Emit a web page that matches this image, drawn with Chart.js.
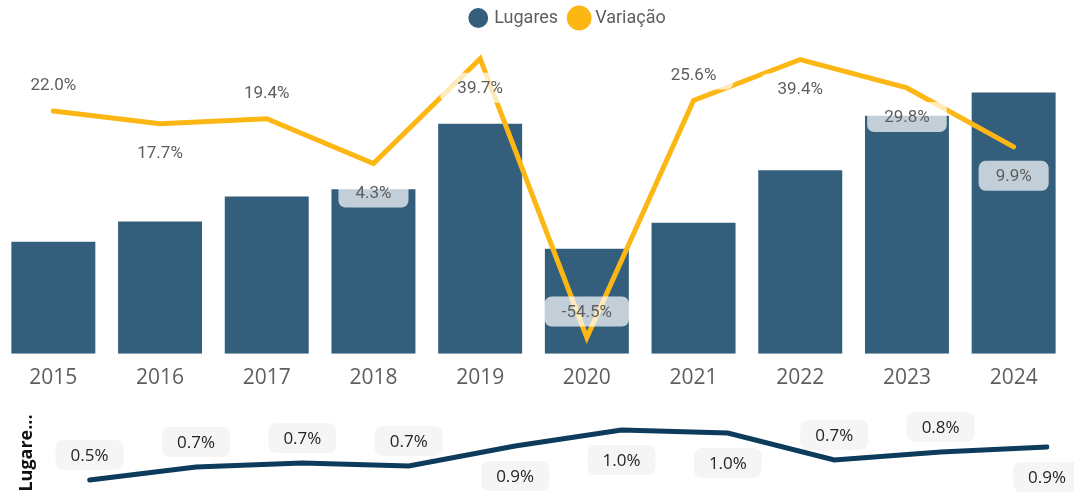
<!DOCTYPE html>
<html>
<head>
<meta charset="utf-8">
<script src="https://cdn.jsdelivr.net/npm/chart.js@4.4.1/dist/chart.umd.min.js"></script>
<style>
  html, body { margin: 0; padding: 0; background: #fff; }
  #wrap { position: relative; width: 1074px; height: 496px; overflow: hidden; }
  .box { position: absolute; left: 0; width: 1074px; }
</style>
</head>
<body>
<div id="wrap">
  <div class="box" style="top:0;height:403px"><canvas id="mainChart"></canvas></div>
  <div class="box" style="top:400px;height:96px"><canvas id="shareChart"></canvas></div>
</div>
<script>
// dados
const anos = ['2015', '2016', '2017', '2018', '2019', '2020', '2021', '2022', '2023', '2024'];
const lugares = [11100, 13100, 15600, 16300, 22800, 10400, 13000, 18200, 23600, 25900];
const variacao = [22.0, 17.7, 19.4, 4.3, 39.7, -54.5, 25.6, 39.4, 29.8, 9.9];
const quota = [0.53, 0.66, 0.70, 0.67, 0.87, 1.03, 1.00, 0.73, 0.81, 0.86];

// onde fica cada rótulo (acima / abaixo do ponto)
const posVariacao = ['above', 'below', 'above', 'below', 'below', 'above', 'above', 'below', 'below', 'below'];
const posQuota = ['above', 'above', 'above', 'above', 'below', 'below', 'below', 'above', 'above', 'below'];

function makeLabels(cfg) {
    return {
        id: 'rotulos',
        afterDatasetsDraw(chart) {
            const meta = chart.getDatasetMeta(cfg.datasetIndex);
            const ctx = chart.ctx;
            ctx.save();
            ctx.font = cfg.font;
            ctx.textAlign = 'center';
            ctx.textBaseline = 'middle';
            meta.data.forEach((pt, i) => {
                const txt = cfg.texts[i];
                const dy = cfg.pos[i] === 'above' ? -cfg.above : cfg.below;
                const x = pt.x, y = pt.y + dy;
                const w = ctx.measureText(txt).width + cfg.padX * 2;
                ctx.fillStyle = cfg.bg;
                ctx.beginPath();
                ctx.roundRect(x - w / 2, y - cfg.boxH / 2, w, cfg.boxH, cfg.radius);
                ctx.fill();
                ctx.fillStyle = cfg.color;
                ctx.fillText(txt, x, y + 1);
            });
            ctx.restore();
        }
    };
}

// a legenda no original fica um pouco à direita do centro e mais acima
const legendShift = {
    id: 'legendShift',
    afterLayout(chart) {
        const lg = chart.legend;
        if (lg) {
            lg.left += 35;
            lg.right += 35;
            lg.top -= 5;
            lg.bottom -= 5;
        }
    }
};

new Chart(document.getElementById('mainChart'), {
    data: {
        labels: anos,
        datasets: [
            {
                type: 'bar',
                label: 'Lugares',
                data: lugares,
                backgroundColor: '#345f7c',
                borderWidth: 0,
                barPercentage: 0.787,
                categoryPercentage: 1,
                yAxisID: 'y',
                order: 2
            },
            {
                type: 'line',
                label: 'Variação',
                data: variacao,
                borderColor: '#fdb714',
                backgroundColor: '#fdb714',
                borderWidth: 5,
                borderCapStyle: 'round',
                pointRadius: 0,
                tension: 0,
                yAxisID: 'y1',
                order: 1
            }
        ]
    },
    options: {
        responsive: true,
        maintainAspectRatio: false,
        animation: false,
        layout: { padding: { top: 0, right: 7, left: 0, bottom: 0 } },
        plugins: {
            tooltip: { enabled: false },
            legend: {
                position: 'top',
                align: 'center',
                maxHeight: 40,
                labels: {
                    usePointStyle: true,
                    pointStyle: 'circle',
                    boxWidth: 14,
                    boxHeight: 14,
                    padding: 14,
                    color: '#605E5C',
                    font: { family: 'Roboto', size: 18 },
                    sort: (a, b) => a.datasetIndex - b.datasetIndex
                }
            }
        },
        scales: {
            x: {
                grid: { display: false, drawTicks: false },
                border: { display: false },
                ticks: { color: '#605E5C', padding: 12, font: { family: 'Open Sans', size: 21 } }
            },
            y: { display: false, min: 0, max: 31100 },
            y1: { display: false, min: -60, max: 46 }
        }
    },
    plugins: [legendShift, makeLabels({
        datasetIndex: 1,
        texts: variacao.map(v => v.toFixed(1) + '%'),
        pos: posVariacao,
        above: 26, below: 29,
        font: '17px Roboto',
        color: '#605E5C',
        bg: 'rgba(255,255,255,0.7)',
        padX: 17, boxH: 30, radius: 7
    })]
});

new Chart(document.getElementById('shareChart'), {
    type: 'line',
    data: {
        labels: anos,
        datasets: [{
            label: 'Lugares',
            data: quota,
            borderColor: '#0c3b5c',
            borderWidth: 5,
            borderCapStyle: 'round',
            pointRadius: 0,
            tension: 0
        }]
    },
    options: {
        responsive: true,
        maintainAspectRatio: false,
        animation: false,
        layout: { padding: { top: 10, right: 27, left: 0, bottom: 0 } },
        plugins: { legend: { display: false }, tooltip: { enabled: false } },
        scales: {
            x: { display: false, offset: false },
            y: {
                min: 0.37,
                max: 1.23,
                grid: { display: false, drawTicks: false },
                border: { display: false },
                ticks: { display: false },
                title: {
                    display: true,
                    text: 'Lugare...',
                    color: '#111',
                    font: { family: 'Open Sans', size: 18, weight: 'bold' },
                    padding: { top: 16, bottom: 52 }
                }
            }
        }
    },
    plugins: [makeLabels({
        datasetIndex: 0,
        texts: quota.map(v => v.toFixed(1) + '%'),
        pos: posQuota,
        above: 25, below: 30,
        font: '17px "Open Sans"',
        color: '#252423',
        bg: '#f5f5f5',
        padX: 15, boxH: 30, radius: 8
    })]
});
</script>
</body>
</html>
